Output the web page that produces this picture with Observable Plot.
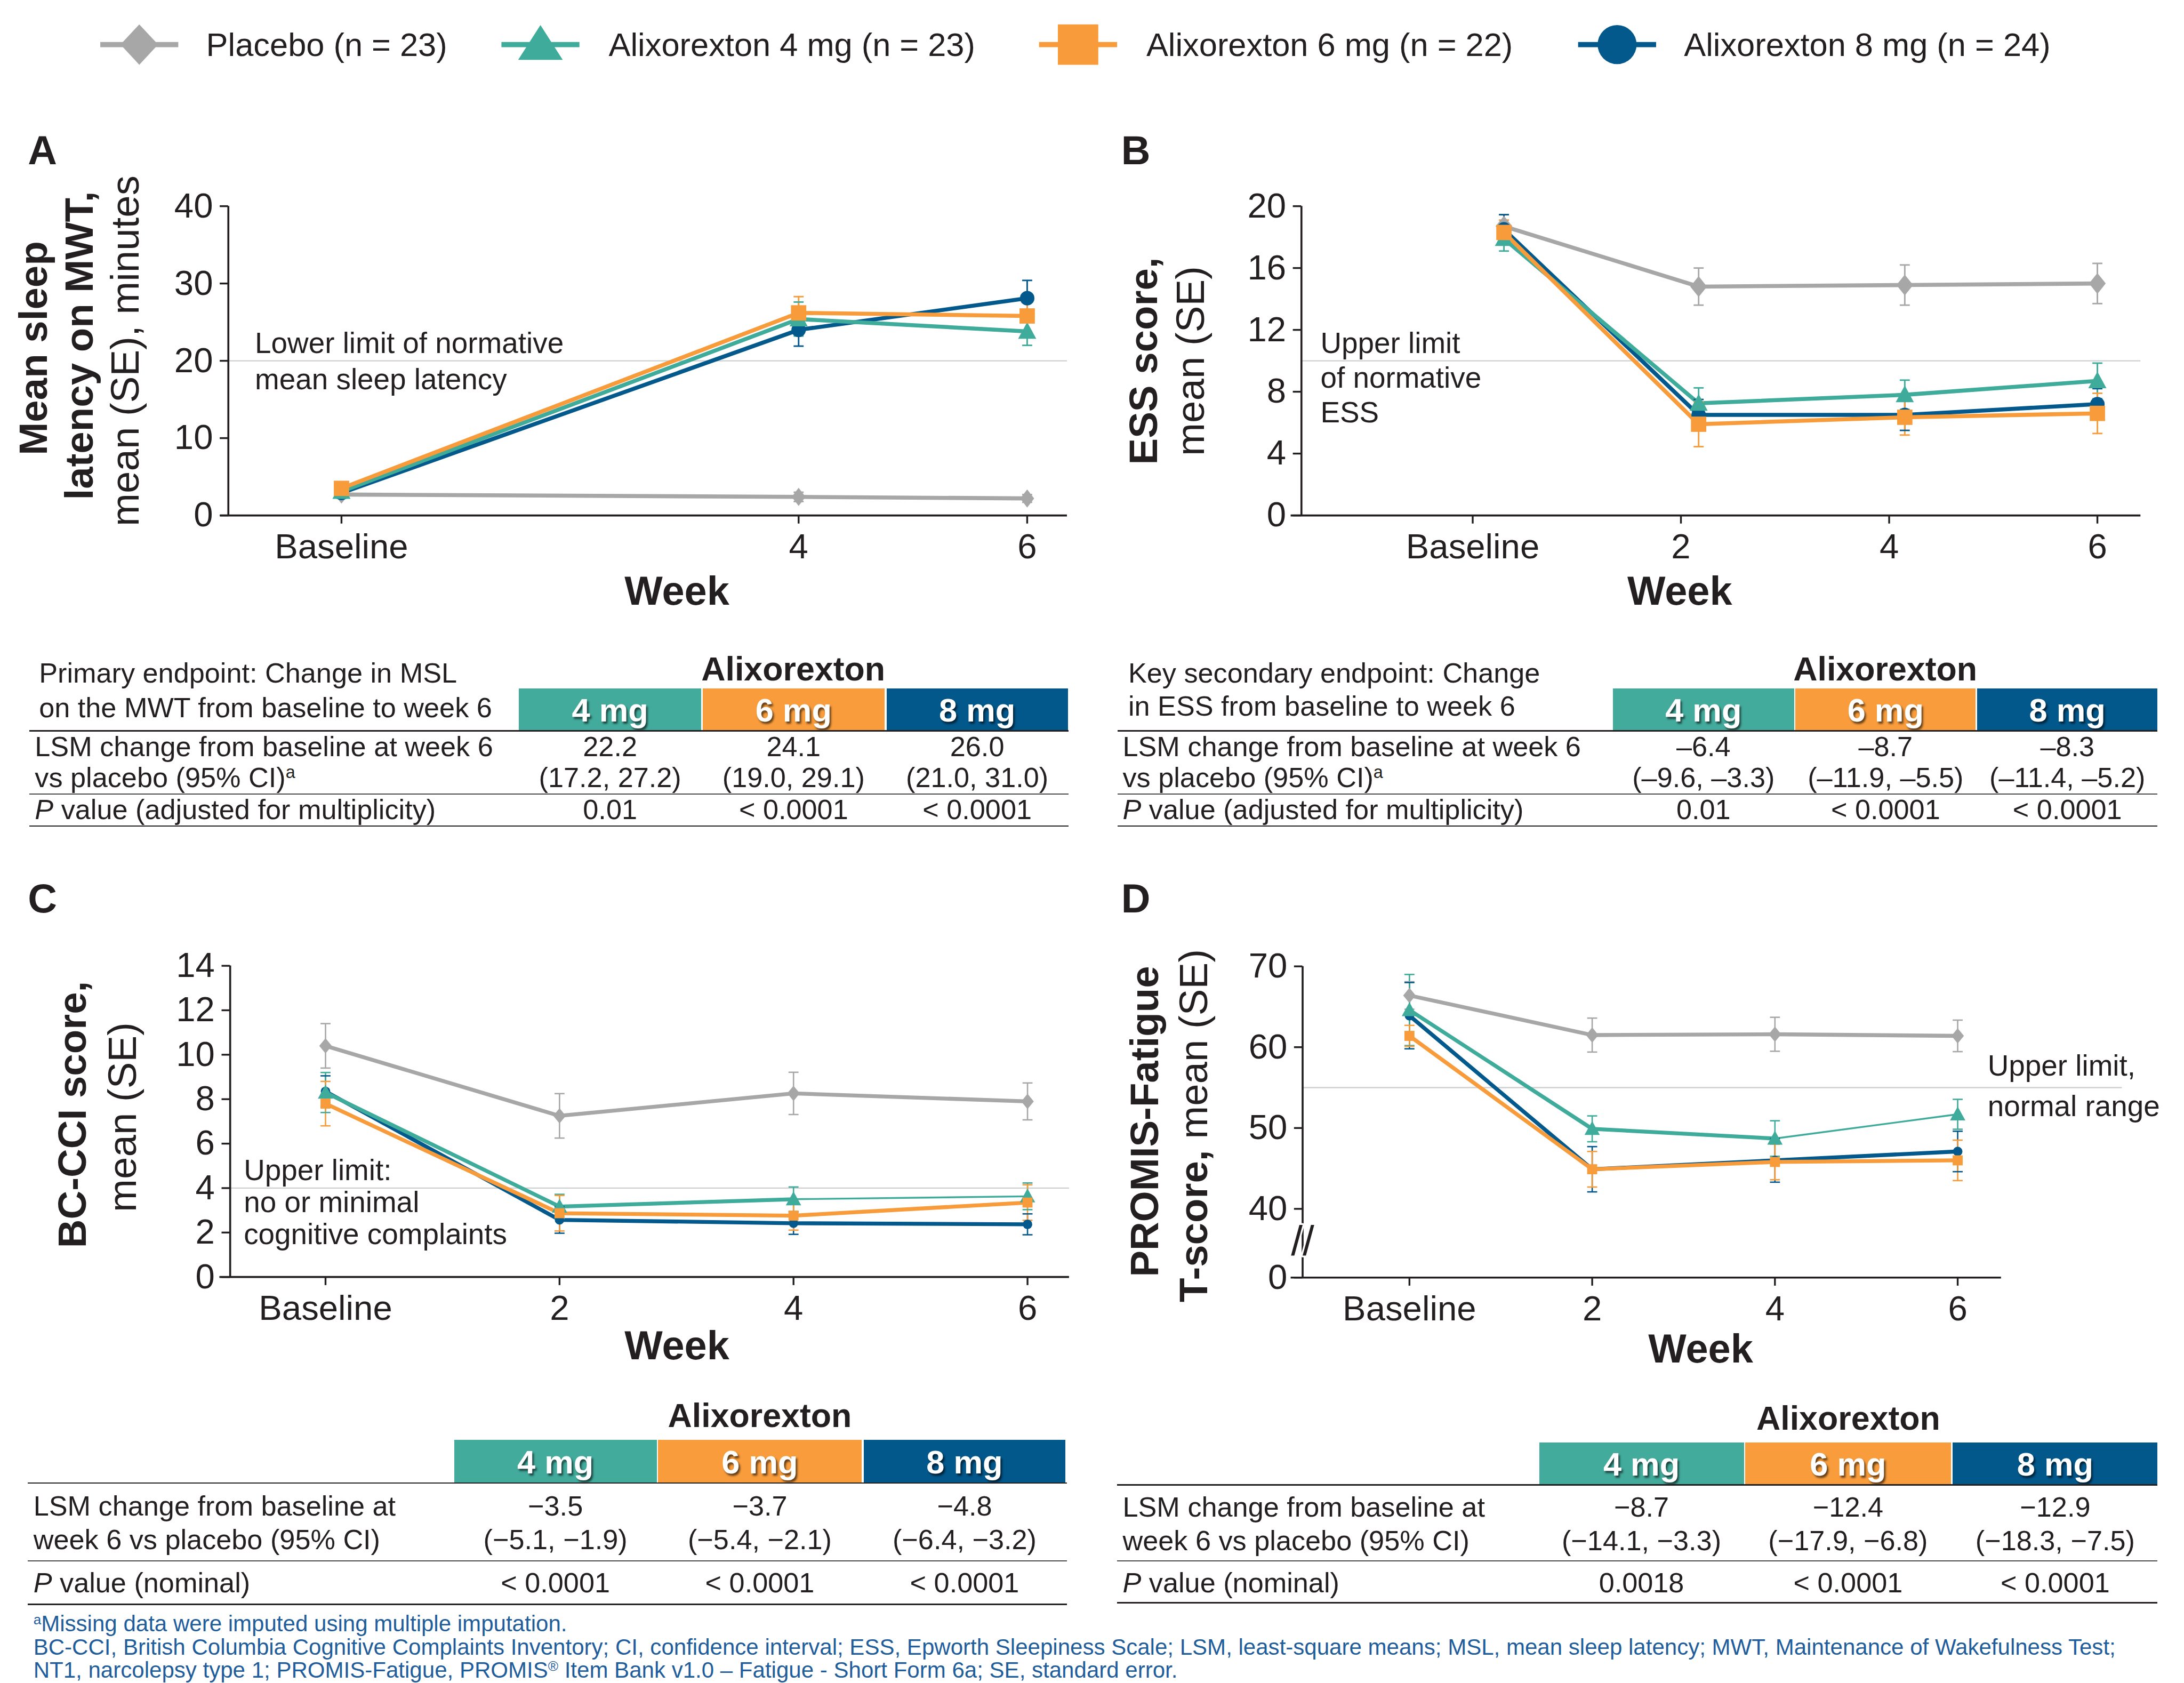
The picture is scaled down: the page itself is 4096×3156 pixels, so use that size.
<!DOCTYPE html>
<html><head><meta charset="utf-8">
<script src="https://cdn.jsdelivr.net/npm/d3@7"></script>
<script src="https://cdn.jsdelivr.net/npm/@observablehq/plot@0.6"></script>
<style>
html,body{margin:0;padding:0;background:#fff;}
#root{position:relative;width:4096px;height:3156px;overflow:hidden;font-family:"Liberation Sans",Arial,Helvetica,sans-serif;color:#231f20;background:#fff;}
.t{position:absolute;white-space:nowrap;line-height:1;}
.t sup{font-size:0.62em;position:relative;top:-0.5em;vertical-align:baseline;line-height:0;}
.abs{position:absolute;}
</style></head><body><div id="root"></div>
<script>
const K = 4096 / 1568;
const root = document.getElementById("root");
const INK = "#231f20";

// ---------- series ----------
const seriesNames = ["Placebo (n = 23)", "Alixorexton 4 mg (n = 23)", "Alixorexton 6 mg (n = 22)", "Alixorexton 8 mg (n = 24)"];
const seriesColors = ["#a7a7a7", "#3fab9b", "#f89b3b", "#04598c"];
const drawOrder = [0, 3, 1, 2];

// ---------- Panel A: MWT mean sleep latency ----------
const mwtWeeks = [0, 4, 6];
const mwtPlacebo = [2.7, 2.4, 2.2];     const mwtPlaceboSE = [0.5, 0.6, 0.5];
const mwt4mg = [3.1, 25.4, 23.8];       const mwt4mgSE = [0.6, 2.2, 1.8];
const mwt6mg = [3.5, 26.2, 25.8];       const mwt6mgSE = [0.6, 2.1, 2.0];
const mwt8mg = [2.9, 24.0, 28.1];       const mwt8mgSE = [0.5, 2.1, 2.3];
const mwtNorm = 20;

// ---------- Panel B: ESS ----------
const essWeeks = [0, 2, 4, 6];
const essPlotWeeks = [0.3, 2.17, 4.15, 6.0];   // plotted positions
const essPlacebo = [18.7, 14.8, 14.9, 15.0];  const essPlaceboSE = [0.75, 1.2, 1.3, 1.3];
const ess4mg = [17.9, 7.25, 7.8, 8.7];        const ess4mgSE = [0.8, 1.0, 0.95, 1.15];
const ess6mg = [18.3, 5.9, 6.35, 6.6];        const ess6mgSE = [0.8, 1.45, 1.15, 1.3];
const ess8mg = [18.5, 6.5, 6.5, 7.2];         const ess8mgSE = [0.95, 1.0, 1.0, 1.0];
const essNorm = 10;

// ---------- Panel C: BC-CCI ----------
const bcWeeks = [0, 2, 4, 6];
const bcPlacebo = [10.4, 7.25, 8.26, 7.9];    const bcPlaceboSE = [1.0, 1.0, 0.95, 0.83];
const bc4mg = [8.3, 3.17, 3.5, 3.63];         const bc4mgSE = [0.9, 0.55, 0.55, 0.6];
const bc6mg = [7.8, 2.87, 2.76, 3.35];        const bc6mgSE = [1.0, 0.8, 0.65, 0.8];
const bc8mg = [8.35, 2.57, 2.42, 2.37];       const bc8mgSE = [0.7, 0.6, 0.5, 0.47];
const bcNorm = 4;

// ---------- Panel D: PROMIS-Fatigue ----------
const prWeeks = [0, 2, 4, 6];
const prPlacebo = [66.4, 61.5, 61.6, 61.4];   const prPlaceboSE = [1.7, 2.1, 2.1, 1.95];
const pr4mg = [64.6, 49.9, 48.7, 51.7];       const pr4mgSE = [4.4, 1.6, 2.2, 1.85];
const pr6mg = [61.4, 44.9, 45.8, 46.0];       const pr6mgSE = [1.3, 2.2, 2.2, 2.5];
const pr8mg = [63.9, 44.9, 46.0, 47.1];       const pr8mgSE = [4.1, 2.8, 2.7, 2.5];
const prNorm = 55;
// broken y axis: the axis origin (labelled 0) sits where 31.5 would be on the 40-70 scale
const prAxisOrigin = 31.5;
const prBreakAt = 35.9;

// ---------- ticks ----------
const xTicksA = [0, 4, 6];
const xTicksBCD = [0, 2, 4, 6];
const yTicksA = [0, 10, 20, 30, 40];
const yTicksB = [0, 4, 8, 12, 16, 20];
const yTicksC = [0, 2, 4, 6, 8, 10, 12, 14];
const yTicksD = [prAxisOrigin, 40, 50, 60, 70];
const yLabelsD = d => d === prAxisOrigin ? "0" : String(d);
const weekLabel = w => w === 0 ? "Baseline" : String(w);

// ---------- tables ----------
const doseLabels = ["4 mg", "6 mg", "8 mg"];
const doseColors = ["#42ab9c", "#f89c3c", "#02578b"];
const mwtLSM = ["22.2", "24.1", "26.0"];
const mwtCI = ["(17.2, 27.2)", "(19.0, 29.1)", "(21.0, 31.0)"];
const mwtP = ["0.01", "< 0.0001", "< 0.0001"];
const essLSM = ["\u20136.4", "\u20138.7", "\u20138.3"];
const essCI = ["(\u20139.6, \u20133.3)", "(\u201311.9, \u20135.5)", "(\u201311.4, \u20135.2)"];
const essP = ["0.01", "< 0.0001", "< 0.0001"];
const bcLSM = ["\u22123.5", "\u22123.7", "\u22124.8"];
const bcCI = ["(\u22125.1, \u22121.9)", "(\u22125.4, \u22122.1)", "(\u22126.4, \u22123.2)"];
const bcP = ["< 0.0001", "< 0.0001", "< 0.0001"];
const prLSM = ["\u22128.7", "\u221212.4", "\u221212.9"];
const prCI = ["(\u221214.1, \u22123.3)", "(\u221217.9, \u22126.8)", "(\u221218.3, \u22127.5)"];
const prP = ["0.0018", "< 0.0001", "< 0.0001"];

// ---------- helpers ----------
function txt(html, x, y, opt = {}) {
  const el = document.createElement("div");
  el.className = "t";
  el.innerHTML = html;
  el.style.left = (x * K) + "px";
  el.style.top = (y * K) + "px";
  el.style.fontSize = ((opt.size || 20) * K) + "px";
  if (opt.bold) el.style.fontWeight = "bold";
  if (opt.color) el.style.color = opt.color;
  if (opt.shadow) el.style.textShadow = `${1.1*K}px ${1.3*K}px ${1.4*K}px rgba(0,0,0,0.6)`;
  const ax = opt.anchor === "middle" ? "-50%" : opt.anchor === "end" ? "-100%" : "0";
  el.style.transform = `translate(${ax},-50%)`;
  root.appendChild(el);
  return el;
}
function rot(html, cx, cy, size, bold) {
  const el = document.createElement("div");
  el.className = "t";
  el.innerHTML = html;
  el.style.left = (cx * K) + "px";
  el.style.top = (cy * K) + "px";
  el.style.fontSize = (size * K) + "px";
  if (bold) el.style.fontWeight = "bold";
  el.style.transform = "translate(-50%,-50%) rotate(-90deg)";
  root.appendChild(el);
}
function rect(l, t, w, h, color) {
  const el = document.createElement("div");
  el.className = "abs";
  el.style.left = (l * K) + "px"; el.style.top = (t * K) + "px";
  el.style.width = (w * K) + "px"; el.style.height = (h * K) + "px";
  el.style.background = color;
  root.appendChild(el);
}
function hline(l, r, y, th, color) { rect(l, y - th / 2, r - l, th, color || INK); }

// custom marker shapes (dims in reference px)
function makeSymbols(d) {
  const s = K;
  return {
    diamond: { draw(c) { const w = d.diaW * s, h = d.diaH * s; c.moveTo(0, -h); c.lineTo(w, 0); c.lineTo(0, h); c.lineTo(-w, 0); c.closePath(); } },
    triangle: { draw(c) { const w = d.triW * s, h = d.triH * s; c.moveTo(0, -h * 0.56); c.lineTo(w, h * 0.44); c.lineTo(-w, h * 0.44); c.closePath(); } },
    square: { draw(c) { const a = d.sq * s; c.moveTo(-a, -a); c.lineTo(a, -a); c.lineTo(a, a); c.lineTo(-a, a); c.closePath(); } },
    circle: { draw(c) { const r = d.circ * s; c.moveTo(r, 0); c.arc(0, 0, r, 0, 2 * Math.PI); } }
  };
}
function capSymbol(half) {
  return { draw(c) { c.moveTo(-half * K, 0); c.lineTo(half * K, 0); } };
}

function buildRows(xs, sets) {
  const rows = [];
  for (const i of drawOrder) {
    const [means, ses] = sets[i];
    xs.forEach((x, j) => rows.push({ series: seriesNames[i], idx: j, px: x, y: means[j], se: ses[j] }));
  }
  return rows;
}

function panel(cfg) {
  const { box, xDomain, xRange, yDomain, yRange, yAxisAt, xTicks, yTicks, yFormat, ref, refEnd, rows, dims, lw, ebw, cap, brk, thin } = cfg;
  const W = box.w * K, H = box.h * K;
  const xr = xRange.map(v => (v - box.l) * K);
  const yr = yRange.map(v => (v - box.t) * K);
  const xs = d3.scaleLinear(xDomain, xr);
  const ml = xs(yAxisAt), mr = W - xr[1], mt = yr[1], mb = H - yr[0];
  const sym = makeSymbols(dims);
  const capS = capSymbol(cap);
  const lineMarks = [];
  for (const i of drawOrder) {
    const name = seriesNames[i];
    const sr = rows.filter(d => d.series === name);
    if (thin && thin.series === i) {
      lineMarks.push(Plot.line(sr.filter(d => d.idx <= thin.from), { x: "px", y: "y", stroke: "series", strokeWidth: lw * K }));
      lineMarks.push(Plot.line(sr.filter(d => d.idx >= thin.from), { x: "px", y: "y", stroke: "series", strokeWidth: thin.lw * K }));
    } else {
      lineMarks.push(Plot.line(sr, { x: "px", y: "y", stroke: "series", strokeWidth: lw * K }));
    }
  }
  const marks = [
    Plot.ruleY([ref], { x1: yAxisAt, x2: refEnd, stroke: "#cfcfcf", strokeWidth: 0.9 * K }),
    Plot.ruleY([yDomain[0]], { x1: xDomain[0], x2: xDomain[1], stroke: INK, strokeWidth: 1.4 * K }),
    Plot.ruleX([yAxisAt], { y1: yDomain[0], y2: yDomain[1], stroke: INK, strokeWidth: 1.4 * K }),
    Plot.axisX({ ticks: xTicks, tickFormat: weekLabel, tickSize: 6 * K, tickPadding: 7 * K, fontSize: 25 * K, strokeWidth: 1.3 * K, label: null }),
    Plot.axisY({ ticks: yTicks, tickFormat: yFormat || (d => String(d)), tickSize: 6 * K, tickPadding: 5 * K, fontSize: 25 * K, strokeWidth: 1.3 * K, label: null }),
    ...lineMarks,
    Plot.ruleX(rows, { x: "px", y1: d => d.y - d.se, y2: d => d.y + d.se, stroke: "series", strokeWidth: ebw * K }),
    Plot.dot(rows, { x: "px", y: d => d.y + d.se, symbol: capS, r: 3, fill: "none", stroke: "series", strokeWidth: ebw * K }),
    Plot.dot(rows, { x: "px", y: d => d.y - d.se, symbol: capS, r: 3, fill: "none", stroke: "series", strokeWidth: ebw * K }),
    Plot.dot(rows, { x: "px", y: "y", symbol: "series", fill: "series", r: 5, stroke: "none" })
  ];
  if (brk !== undefined) {
    marks.push(Plot.text([brk], { x: yAxisAt, y: d => d, text: () => "//", fontSize: 30 * K, fill: INK, stroke: "white", strokeWidth: 2.5 * K }));
  }
  const fig = Plot.plot({
    width: W, height: H,
    marginLeft: ml, marginRight: mr, marginTop: mt, marginBottom: mb,
    x: { domain: xDomain, range: xr },
    y: { domain: yDomain, range: yr },
    color: { domain: seriesNames, range: seriesColors },
    symbol: { domain: seriesNames, range: [sym.diamond, sym.triangle, sym.square, sym.circle] },
    style: { fontFamily: '"Liberation Sans", Arial, sans-serif', color: INK, background: "transparent", overflow: "visible" },
    marks
  });
  fig.style.position = "absolute";
  fig.style.left = (box.l * K) + "px";
  fig.style.top = (box.t * K) + "px";
  root.appendChild(fig);
}

// ---------- legend ----------
(function legend() {
  const lineStarts = [72, 360, 746, 1133];
  const textStarts = [148, 437, 823, 1209];
  const ly = 32;
  const sym = makeSymbols({ diaW: 13.5, diaH: 14.5, triW: 16, triH: 25, sq: 14.5, circ: 14 });
  const shapes = [sym.diamond, sym.triangle, sym.square, sym.circle];
  const svg = d3.create("svg").attr("width", 4096).attr("height", 70 * K)
    .style("position", "absolute").style("left", "0px").style("top", "0px");
  seriesNames.forEach((name, i) => {
    const x0 = lineStarts[i] * K, x1 = (lineStarts[i] + 56) * K, y = ly * K;
    svg.append("line").attr("x1", x0).attr("x2", x1).attr("y1", y).attr("y2", y)
      .attr("stroke", seriesColors[i]).attr("stroke-width", 3.8 * K);
    const p = d3.path(); shapes[i].draw(p);
    svg.append("path").attr("d", p.toString()).attr("transform", `translate(${(x0 + x1) / 2},${y})`)
      .attr("fill", seriesColors[i]);
  });
  root.appendChild(svg.node());
  seriesNames.forEach((name, i) => txt(name, textStarts[i], ly, { size: 23.5 }));
})();

// ---------- panels ----------
panel({
  box: { l: 0, t: 120, w: 790, h: 330 },
  xDomain: [-1.06, 6.35], xRange: [158, 766],
  yDomain: [0, 40], yRange: [370, 148],
  yAxisAt: -0.99, xTicks: xTicksA, yTicks: yTicksA,
  ref: mwtNorm, refEnd: 6.35,
  rows: buildRows(mwtWeeks, [[mwtPlacebo, mwtPlaceboSE], [mwt4mg, mwt4mgSE], [mwt6mg, mwt6mgSE], [mwt8mg, mwt8mgSE]]),
  dims: { diaW: 5, diaH: 6.5, triW: 6.5, triH: 12, sq: 5.5, circ: 5.2 }, lw: 2.9, ebw: 1.1, cap: 3.6
});
panel({
  box: { l: 790, t: 120, w: 778, h: 330 },
  xDomain: [-1.746, 6.416], xRange: [926.5, 1536.6],
  yDomain: [0, 20], yRange: [370, 148],
  yAxisAt: -1.645, xTicks: xTicksBCD, yTicks: yTicksB,
  ref: essNorm, refEnd: 6.416,
  rows: buildRows(essPlotWeeks, [[essPlacebo, essPlaceboSE], [ess4mg, ess4mgSE], [ess6mg, ess6mgSE], [ess8mg, ess8mgSE]]),
  dims: { diaW: 6, diaH: 7.5, triW: 6.5, triH: 12, sq: 5.5, circ: 5.2 }, lw: 2.9, ebw: 1.1, cap: 3.6
});
panel({
  box: { l: 0, t: 670, w: 790, h: 300 },
  xDomain: [-0.905, 6.357], xRange: [157.5, 767.5],
  yDomain: [0, 14], yRange: [916.6, 693.2],
  yAxisAt: -0.815, xTicks: xTicksBCD, yTicks: yTicksC,
  ref: bcNorm, refEnd: 6.357,
  rows: buildRows(bcWeeks, [[bcPlacebo, bcPlaceboSE], [bc4mg, bc4mgSE], [bc6mg, bc6mgSE], [bc8mg, bc8mgSE]]),
  dims: { diaW: 4.5, diaH: 5.5, triW: 5.5, triH: 10, sq: 3.6, circ: 3.4 }, lw: 2.8, ebw: 1.0, cap: 3.6,
  thin: { series: 1, from: 2, lw: 1.3 }
});
panel({
  box: { l: 790, t: 670, w: 778, h: 300 },
  xDomain: [-1.297, 6.477], xRange: [926.5, 1436.5],
  yDomain: [prAxisOrigin, 70], yRange: [917, 693.6],
  yAxisAt: -1.169, xTicks: xTicksBCD, yTicks: yTicksD, yFormat: yLabelsD,
  ref: prNorm, refEnd: 7.8,
  rows: buildRows(prWeeks, [[prPlacebo, prPlaceboSE], [pr4mg, pr4mgSE], [pr6mg, pr6mgSE], [pr8mg, pr8mgSE]]),
  dims: { diaW: 4.5, diaH: 5.5, triW: 5.5, triH: 10, sq: 3.6, circ: 3.4 }, lw: 2.8, ebw: 1.0, cap: 3.6,
  brk: prBreakAt, thin: { series: 1, from: 2, lw: 1.3 }
});

// ---------- panel letters, axis titles, annotations ----------
txt("A", 20, 108, { size: 29, bold: true });
txt("B", 805, 108, { size: 29, bold: true });
txt("C", 20, 645, { size: 29, bold: true });
txt("D", 805, 645, { size: 29, bold: true });

rot("Mean sleep", 24, 250, 28.5, true);
rot("latency on MWT,", 57, 248, 28.5, true);
rot("mean (SE), minutes", 90, 252, 28.5, false);
rot("ESS score,", 821, 259, 28.5, true);
rot("mean (SE)", 855, 259, 28.5, false);
rot("BC-CCI score,", 52, 800, 28.5, true);
rot("mean (SE)", 88, 802, 28.5, false);
rot("PROMIS-Fatigue", 822, 805, 28.5, true);
rot("<b>T-score,</b> mean (SE)", 857, 808, 28.5, false);

txt("Week", 486, 424, { size: 29, bold: true, anchor: "middle" });
txt("Week", 1206, 424, { size: 29, bold: true, anchor: "middle" });
txt("Week", 486, 966, { size: 29, bold: true, anchor: "middle" });
txt("Week", 1221, 968, { size: 29, bold: true, anchor: "middle" });

txt("Lower limit of normative", 183, 246, { size: 21 });
txt("mean sleep latency", 183, 272, { size: 21 });
txt("Upper limit", 948, 246, { size: 21 });
txt("of normative", 948, 271, { size: 21 });
txt("ESS", 948, 296, { size: 21 });
txt("Upper limit:", 175, 840, { size: 21 });
txt("no or minimal", 175, 863, { size: 21 });
txt("cognitive complaints", 175, 886, { size: 21 });
txt("Upper limit,", 1427, 765, { size: 21 });
txt("normal range", 1427, 794, { size: 21 });

// ---------- tables ----------
function table(t) {
  txt("Alixorexton", t.titleX, t.titleY, { size: 24, bold: true, anchor: "middle" });
  t.cols.forEach(([l, r], i) => {
    rect(l, t.cellTop, r - l, t.cellBottom - t.cellTop, doseColors[i]);
    txt(doseLabels[i], (l + r) / 2, (t.cellTop + t.cellBottom) / 2 + 0.5, { size: 23.5, bold: true, anchor: "middle", color: "#fff", shadow: true });
  });
  hline(t.left, t.right, t.cellBottom, 1.0, INK);
  hline(t.left, t.right, t.thinY, 0.55, "#4a4a4a");
  hline(t.left, t.right, t.bottomY, 0.9, INK);
  t.head.forEach(([s, x, y]) => txt(s, x, y, { size: 20 }));
  t.rowLabels.forEach(([s, x, y]) => txt(s, x, y, { size: 20 }));
  t.cols.forEach(([l, r], i) => {
    const cx = (l + r) / 2;
    txt(t.lsm[i], cx, t.valY[0], { size: 20, anchor: "middle" });
    txt(t.ci[i], cx, t.valY[1], { size: 20, anchor: "middle" });
    txt(t.p[i], cx, t.pY, { size: 20, anchor: "middle" });
  });
}
table({
  left: 21, right: 767, cols: [[372.5, 503.5], [504.5, 635], [636.5, 766.6]],
  cellTop: 494.3, cellBottom: 524.7, titleX: 569.5, titleY: 480,
  head: [["Primary endpoint: Change in MSL", 28, 483], ["on the MWT from baseline to week 6", 28, 508]],
  rowLabels: [["LSM change from baseline at week 6", 25, 536], ["vs placebo (95% CI)<sup>a</sup>", 25, 558], ["<i>P</i> value (adjusted for multiplicity)", 25, 581]],
  valY: [536, 558], pY: 581, thinY: 570, bottomY: 593,
  lsm: mwtLSM, ci: mwtCI, p: mwtP
});
table({
  left: 802.5, right: 1549, cols: [[1158, 1288], [1289, 1418.5], [1419.5, 1549]],
  cellTop: 494.3, cellBottom: 524.7, titleX: 1353.5, titleY: 480,
  head: [["Key secondary endpoint: Change", 810, 483], ["in ESS from baseline to week 6", 810, 507]],
  rowLabels: [["LSM change from baseline at week 6", 806, 536], ["vs placebo (95% CI)<sup>a</sup>", 806, 558], ["<i>P</i> value (adjusted for multiplicity)", 806, 581]],
  valY: [536, 558], pY: 581, thinY: 570, bottomY: 593,
  lsm: essLSM, ci: essCI, p: essP
});
table({
  left: 20, right: 766, cols: [[326, 471.5], [472.5, 618.5], [620, 765]],
  cellTop: 1033.5, cellBottom: 1064.6, titleX: 545.5, titleY: 1016,
  head: [],
  rowLabels: [["LSM change from baseline at", 24, 1081], ["week 6 vs placebo (95% CI)", 24, 1105], ["<i>P</i> value (nominal)", 24, 1136]],
  valY: [1081, 1105], pY: 1136, thinY: 1120.5, bottomY: 1151.7,
  lsm: bcLSM, ci: bcCI, p: bcP
});
table({
  left: 802, right: 1549, cols: [[1105, 1252], [1253, 1400.6], [1402, 1549]],
  cellTop: 1035.5, cellBottom: 1066, titleX: 1327, titleY: 1018,
  head: [],
  rowLabels: [["LSM change from baseline at", 806, 1082], ["week 6 vs placebo (95% CI)", 806, 1106], ["<i>P</i> value (nominal)", 806, 1136]],
  valY: [1082, 1106], pY: 1136, thinY: 1120.5, bottomY: 1150.5,
  lsm: prLSM, ci: prCI, p: prP
});

// ---------- footnotes ----------
const FN = "#1f5d9b";
txt("<sup>a</sup>Missing data were imputed using multiple imputation.", 24, 1165.5, { size: 16.1, color: FN });
txt("BC-CCI, British Columbia Cognitive Complaints Inventory; CI, confidence interval; ESS, Epworth Sleepiness Scale; LSM, least-square means; MSL, mean sleep latency; MWT, Maintenance of Wakefulness Test;", 24, 1182.5, { size: 16.1, color: FN });
txt("NT1, narcolepsy type 1; PROMIS-Fatigue, PROMIS<sup>\u00ae</sup> Item Bank v1.0 \u2013 Fatigue - Short Form 6a; SE, standard error.", 24, 1199, { size: 16.1, color: FN });
</script>
</body></html>
